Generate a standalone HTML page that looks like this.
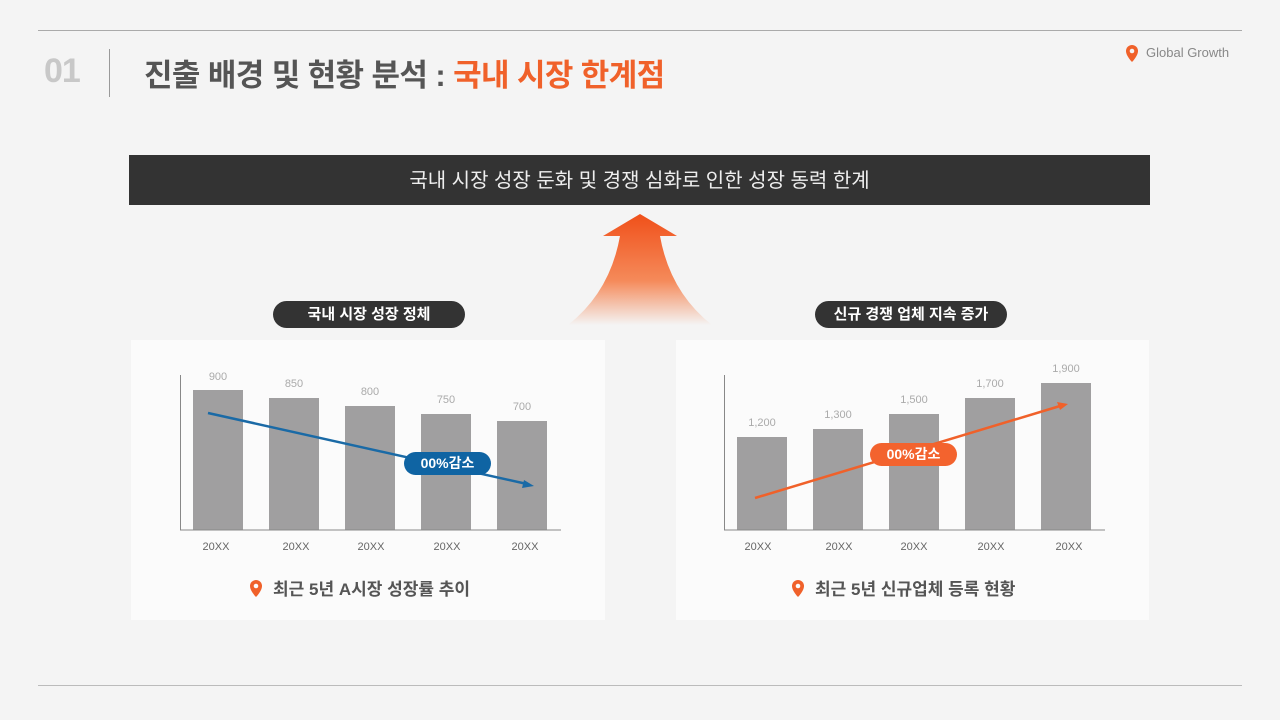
<!DOCTYPE html>
<html><head><meta charset="utf-8"><style>
body{margin:0;width:1280px;height:720px;background:#f4f4f4;position:relative;overflow:hidden;font-family:"Liberation Sans","Noto Sans CJK KR",sans-serif}
.a{position:absolute}
</style></head><body>
<div class="a" style="left:38px;top:30px;width:1204px;height:1px;background:#aaa"></div>
<div class="a" style="left:38px;top:685px;width:1204px;height:1px;background:#bbb"></div>
<div class="a" style="left:44px;top:52px;font-size:34px;font-weight:bold;color:#c8c8c8;letter-spacing:-1px">01</div>
<div class="a" style="left:109px;top:49px;width:1px;height:48px;background:#999"></div>
<div class="a" style="left:144px;top:50px;font-size:31px;font-weight:bold;color:#555;letter-spacing:-0.6px">진출 배경 및 현황 분석 : <span style="color:#f0612a">국내 시장 한계점</span></div>
<svg class="a" style="left:1124px;top:44px" width="16" height="20"><path d="M8 1a6 6 0 0 0-6 6c0 5 6 11 6 11s6-6 6-11a6 6 0 0 0-6-6z" fill="#f0612a"/><circle cx="8" cy="7" r="2.3" fill="#f4f4f4"/></svg>
<div class="a" style="left:1146px;top:45px;font-size:13px;color:#888">Global Growth</div>
<div class="a" style="left:129px;top:155px;width:1021px;height:50px;background:#333;color:#eee;font-size:20px;text-align:center;line-height:52px">국내 시장 성장 둔화 및 경쟁 심화로 인한 성장 동력 한계</div>
<svg class="a" style="left:560px;top:212px" width="160" height="115"><defs><linearGradient id="g" x1="0" y1="0" x2="0" y2="1"><stop offset="0" stop-color="#f0501a"/><stop offset="0.6" stop-color="#f58a5a"/><stop offset="1" stop-color="#f4f4f4"/></linearGradient></defs><path d="M43 24L80 2L117 24L100 24Q110 80 152 113L8 113Q50 80 60 24Z" fill="url(#g)"/></svg>
<div class="a" style="left:273px;top:301px;width:192px;height:27px;border-radius:14px;background:#333;color:#fff;font-size:15px;font-weight:bold;text-align:center;line-height:27px">국내 시장 성장 정체</div>
<div class="a" style="left:815px;top:301px;width:192px;height:27px;border-radius:14px;background:#333;color:#fff;font-size:15px;font-weight:bold;text-align:center;line-height:27px">신규 경쟁 업체 지속 증가</div>
<div class="a" style="left:131px;top:340px;width:474px;height:280px;background:#fbfbfb"></div>
<div class="a" style="left:676px;top:340px;width:473px;height:280px;background:#fbfbfb"></div>
<svg class="a" style="left:0;top:0" width="1280" height="720" font-family="Liberation Sans, sans-serif">
<g fill="#a09fa0">
<rect x="193" y="390" width="50" height="140"/><rect x="269" y="398" width="50" height="132"/><rect x="345" y="406" width="50" height="124"/><rect x="421" y="414" width="50" height="116"/><rect x="497" y="421" width="50" height="109"/>
<rect x="737" y="437" width="50" height="93"/><rect x="813" y="429" width="50" height="101"/><rect x="889" y="414" width="50" height="116"/><rect x="965" y="398" width="50" height="132"/><rect x="1041" y="383" width="50" height="147"/>
</g>
<g stroke="#888" stroke-width="1"><path d="M180.5 375V530H561" fill="none"/><path d="M724.5 375V530H1105" fill="none"/></g>
<g fill="#aaa" font-size="11" text-anchor="middle">
<text x="218" y="380">900</text><text x="294" y="387">850</text><text x="370" y="395">800</text><text x="446" y="403">750</text><text x="522" y="410">700</text>
<text x="762" y="426">1,200</text><text x="838" y="418">1,300</text><text x="914" y="403">1,500</text><text x="990" y="387">1,700</text><text x="1066" y="372">1,900</text>
</g>
<g fill="#666" font-size="11" text-anchor="middle">
<text x="216" y="550">20XX</text><text x="296" y="550">20XX</text><text x="371" y="550">20XX</text><text x="447" y="550">20XX</text><text x="525" y="550">20XX</text>
<text x="758" y="550">20XX</text><text x="839" y="550">20XX</text><text x="914" y="550">20XX</text><text x="991" y="550">20XX</text><text x="1069" y="550">20XX</text>
</g>
<line x1="208" y1="413" x2="527" y2="484" stroke="#1a6aa6" stroke-width="2.5"/><path d="M534 486l-10 -6 -2 8z" fill="#1a6aa6"/>
<line x1="755" y1="498" x2="1060" y2="406" stroke="#f0612a" stroke-width="2.5"/><path d="M1068 404l-11 -2 3 8z" fill="#f0612a"/>
</svg>
<div class="a" style="left:404px;top:452px;width:87px;height:23px;border-radius:12px;background:#0f64a3;color:#fff;font-size:14px;font-weight:bold;text-align:center;line-height:23px">00%감소</div>
<div class="a" style="left:870px;top:443px;width:87px;height:23px;border-radius:12px;background:#f3632e;color:#fff;font-size:14px;font-weight:bold;text-align:center;line-height:23px">00%감소</div>
<svg class="a" style="left:249px;top:579px" width="14" height="19"><path d="M7 1a6 6 0 0 0-6 6c0 5 6 11 6 11s6-6 6-11a6 6 0 0 0-6-6z" fill="#f0612a"/><circle cx="7" cy="7" r="2.3" fill="#fbfbfb"/></svg>
<div class="a" style="left:273px;top:575px;font-size:17px;font-weight:bold;color:#555">최근 5년 A시장 성장률 추이</div>
<svg class="a" style="left:791px;top:579px" width="14" height="19"><path d="M7 1a6 6 0 0 0-6 6c0 5 6 11 6 11s6-6 6-11a6 6 0 0 0-6-6z" fill="#f0612a"/><circle cx="7" cy="7" r="2.3" fill="#fbfbfb"/></svg>
<div class="a" style="left:815px;top:575px;font-size:17px;font-weight:bold;color:#555">최근 5년 신규업체 등록 현황</div>
</body></html>
